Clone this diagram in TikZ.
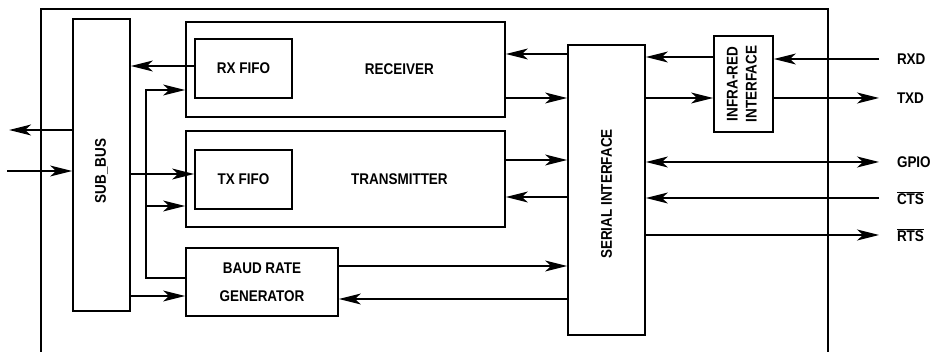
\documentclass[tikz,border=0pt]{standalone}
\usepackage{fontspec}
\setmainfont[FakeStretch=0.87]{Liberation Sans}
\usetikzlibrary{arrows.meta,calc}
\newcommand{\lblfont}{\fontsize{15.5}{17.5}\selectfont\bfseries}
\newcommand{\negsig}[1]{$\overline{\mbox{#1}}$}
\tikzset{
  >={Stealth[length=22pt,width=11pt,inset=6pt]},
  frame/.style={line width=1.5pt},
  blk/.style={draw,line width=1.8pt,inner sep=0pt,align=center},
  flow/.style={->,line width=1.3pt},
  sig/.style={anchor=west,inner sep=0pt,outer xsep=18pt},
}

\begin{document}
\begin{tikzpicture}[x=1pt,y=-1pt,every node/.style={font=\lblfont}]
  \useasboundingbox (0,0) rectangle (932,352);
  % device outline, open at the bottom
  \draw[frame] (41,352) -- (41,9) -- (828,9) -- (828,352);

  % blocks
  \node[blk,minimum width=57pt,minimum height=292pt] (subbus) at (101.5,165)
    {\rotatebox{90}{SUB\_BUS\hspace{12pt}}};
  \node[blk,minimum width=319pt,minimum height=95pt] (rcv) at (345.5,69.5) {};
  \node[blk,minimum width=97pt,minimum height=59pt] (rxfifo) at (243.5,68.5) {RX FIFO};
  \node[blk,minimum width=319pt,minimum height=96pt] (xmt) at (345.5,179) {};
  \node[blk,minimum width=97pt,minimum height=59pt] (txfifo) at (243.5,179.5) {TX FIFO};
  \node (rcvlbl) at ($(rxfifo.east)!0.5!(rcv.east)$) {RECEIVER};
  \node (xmtlbl) at ($(txfifo.east)!0.5!(xmt.east)$) {TRANSMITTER};
  \node[blk,minimum width=152pt,minimum height=68pt] (baud) at (262,282)
    {BAUD RATE\\[11pt]GENERATOR};
  \node[blk,minimum width=77pt,minimum height=290pt] (serial) at (606.5,190)
    {\rotatebox{90}{SERIAL INTERFACE\hspace{8pt}}};
  \node[blk,minimum width=59pt,minimum height=96pt] (irda) at (743.5,84)
    {\rotatebox{90}{\begin{tabular}{@{}c@{}}INFRA-RED\\[1.5pt]INTERFACE\end{tabular}}};

  % external signals
  \node[sig] (rxd) at (879,59) {RXD};
  \node[sig] (txd) at (879,98) {TXD};
  \node[sig] (gpio) at (879,162) {GPIO};
  \node[sig] (cts) at (879,198) {\negsig{CTS}};
  \node[sig] (rts) at (879,235) {\negsig{RTS}};

  % host side of the bus
  \coordinate (busout) at ([yshift=35pt]subbus.west);
  \coordinate (extout) at ([xshift=-63pt]busout);
  \coordinate (busin) at ([yshift=-6pt]subbus.west);
  \coordinate (extin) at ([xshift=-65pt]busin);
  \draw[flow] (busout) -- (extout);
  \draw[flow] (extin) -- (busin);

  % bus to blocks
  \coordinate (rxtap) at ([yshift=2.5pt]rxfifo.west);
  \draw[flow] (rxtap) -- (rxtap -| subbus.east);
  \coordinate (txfeed) at ([yshift=5.5pt]txfifo.west);
  \draw[flow] (txfeed -| subbus.east) -- (txfeed);
  \coordinate (baudfeed) at ([yshift=-14pt]baud.west);
  \draw[flow] (baudfeed -| subbus.east) -- (baudfeed);
  \coordinate (trunktop) at (146,90);
  \coordinate (trunkbot) at (146,278);
  \draw[flow] (trunkbot -| baud.west) -- (trunkbot) -- (trunktop) -- (trunktop -| rcv.west);
  \coordinate (xmttap) at ([yshift=-27pt]xmt.west);
  \draw[flow] (xmttap -| trunkbot) -- (xmttap);

  % blocks to serial interface
  \coordinate (rcvin) at ([yshift=15.5pt]rcv.east);
  \coordinate (rcvout) at ([yshift=-28.5pt]rcv.east);
  \draw[flow] (rcvin -| serial.west) -- (rcvin);
  \draw[flow] (rcvout) -- (rcvout -| serial.west);
  \coordinate (xmtout) at ([yshift=19pt]xmt.east);
  \coordinate (xmtin) at ([yshift=-18pt]xmt.east);
  \draw[flow] (xmtout) -- (xmtout -| serial.west);
  \draw[flow] (xmtin -| serial.west) -- (xmtin);
  \coordinate (baudout) at ([yshift=16pt]baud.east);
  \coordinate (baudin) at ([yshift=-17pt]baud.east);
  \draw[flow] (baudout) -- (baudout -| serial.west);
  \draw[flow] (baudin -| serial.west) -- (baudin);

  % serial interface to pins
  \coordinate (irout) at ([yshift=27pt]irda.west);
  \coordinate (irin) at ([yshift=-14pt]irda.west);
  \draw[flow] (irout) -- (irout -| serial.east);
  \draw[flow] (irin -| serial.east) -- (irin);
  \draw[flow] (rxd.west) -- (rxd.west -| irda.east);
  \draw[flow] (txd.west -| irda.east) -- (txd.west);
  \draw[flow,<->] (gpio.west -| serial.east) -- (gpio.west);
  \draw[flow] (cts.west) -- (cts.west -| serial.east);
  \draw[flow] (rts.west -| serial.east) -- (rts.west);
\end{tikzpicture}
\end{document}
